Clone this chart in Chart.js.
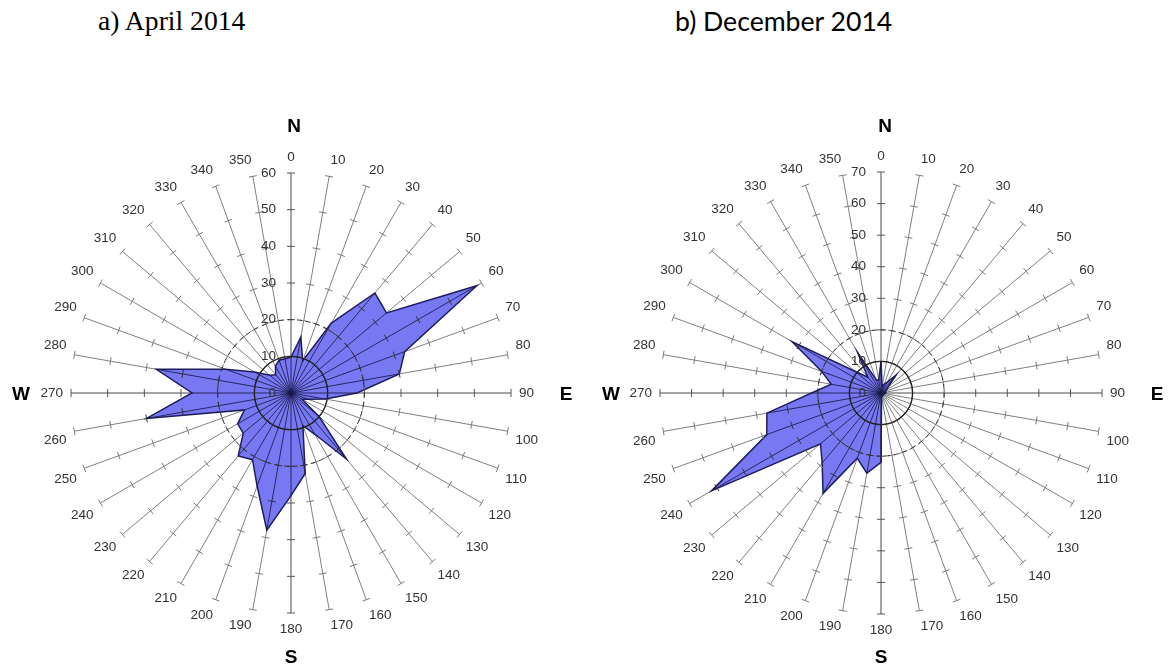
<!DOCTYPE html>
<html><head><meta charset="utf-8">
<script src="https://cdn.jsdelivr.net/npm/chart.js@4.4.1/dist/chart.umd.min.js"></script>
<style>
html,body{margin:0;padding:0;background:#fff;width:1168px;height:665px;overflow:hidden;position:relative;}
.wrap{position:absolute;top:0;width:584px;height:665px;}
#wa{left:0}
#wb{left:584px}
.title{position:absolute;white-space:nowrap;color:#000;}
.dir{position:absolute;font:bold 19px "Liberation Sans",Arial,sans-serif;color:#000;transform:translate(-50%,-50%);line-height:1;}
</style></head><body>
<div class="title" id="ta">a) April 2014</div>
<div class="title" id="tb">b) December 2014</div>
<div class="wrap" id="wa"><canvas id="ca" width="584" height="665"></canvas></div>
<div class="wrap" id="wb"><canvas id="cb" width="584" height="665"></canvas></div>
<div class="dir" style="left:294px;top:125px">N</div>
<div class="dir" style="left:21px;top:393px">W</div>
<div class="dir" style="left:566px;top:393px">E</div>
<div class="dir" style="left:291px;top:656px">S</div>
<div class="dir" style="left:885px;top:125px">N</div>
<div class="dir" style="left:611px;top:393px">W</div>
<div class="dir" style="left:1157px;top:393px">E</div>
<div class="dir" style="left:881px;top:656px">S</div>
<script>
// ---- data ----
const directions = ['0','10','20','30','40','50','60','70','80','90','100','110','120','130','140','150','160','170',
                    '180','190','200','210','220','230','240','250','260','270','280','290','300','310','320','330','340','350'];
const aprilValues = [9.8, 15.5, 9.3, 22, 35.6, 34, 58.5, 33, 30, 18, 9.5, 5, 3.5, 10, 23.5, 13, 9.5, 22.3,
                     28, 38, 27, 21, 22.4, 17, 16.8, 13.5, 40, 27, 37.3, 19, 11.5, 7.5, 6.5, 8.5, 9.5, 9.5];
const decemberValues = [10, 2, 3, 4, 7.5, 3, 2, 1.5, 1.5, 1.5, 1, 1, 1, 1, 1, 1, 1, 1,
                        22, 25.8, 22, 36.7, 29, 25, 62, 38.5, 36.7, 22, 16, 20, 32.5, 10.6, 6.5, 14.8, 4.5, 4];
const ticksApril = [0, 10, 20, 30, 40, 50, 60];
const ticksDecember = [0, 10, 20, 30, 40, 50, 60, 70];
const titleApril = 'a) April 2014';
const titleDecember = 'b) December 2014';

// ---- titles ----
function placeTitle(el, text, family, targetW, left, baseline){
  el.textContent = text;
  const c = document.createElement('canvas').getContext('2d');
  c.font = '100px ' + family;
  const w = c.measureText(text).width;
  const size = 100 * targetW / w;
  c.font = size + 'px ' + family;
  const m = c.measureText(text);
  const A = m.fontBoundingBoxAscent, D = m.fontBoundingBoxDescent;
  el.style.fontFamily = family;
  el.style.fontSize = size + 'px';
  el.style.lineHeight = (A + D) + 'px';
  el.style.left = left + 'px';
  el.style.top = (baseline - A) + 'px';
}
placeTitle(document.getElementById('ta'), titleApril, '"Liberation Serif"', 149, 98, 30);
placeTitle(document.getElementById('tb'), titleDecember, 'Lato', 218, 675, 31);

// ---- decorations drawn through the radial scale ----
const decor = {
  id: 'decor',
  afterDatasetsDraw(chart, args, opts) {
    const s = chart.scales.r, ctx = chart.ctx;
    const n = chart.data.labels.length;
    const data = chart.data.datasets[0].data;
    const cx = s.xCenter, cy = s.yCenter;
    ctx.save();
    // spokes inside the filled area
    ctx.strokeStyle = 'rgba(25,25,70,0.85)';
    ctx.lineWidth = 1;
    for (let i = 0; i < n; i++) {
      const p = s.getPointPositionForValue(i, data[i]);
      ctx.beginPath(); ctx.moveTo(cx, cy); ctx.lineTo(p.x, p.y); ctx.stroke();
    }
    // tick marks on each spoke
    for (let i = 0; i < n; i++) {
      const a = s.getIndexAngle(i) - Math.PI / 2;
      const nx = -Math.sin(a), ny = Math.cos(a);
      for (const v of opts.ticks) {
        if (v === 0) continue;
        const p = s.getPointPositionForValue(i, v);
        const inside = v <= data[i];
        const L = 4;
        ctx.strokeStyle = inside ? '#333' : (i % 9 === 0 ? '#555' : '#7a7a7a');
        ctx.beginPath(); ctx.moveTo(p.x - nx * L, p.y - ny * L); ctx.lineTo(p.x + nx * L, p.y + ny * L); ctx.stroke();
      }
    }
    // reference circles
    ctx.strokeStyle = '#222'; ctx.lineWidth = 1.3;
    ctx.beginPath(); ctx.arc(cx, cy, s.getDistanceFromCenterForValue(opts.solid), 0, 2 * Math.PI); ctx.stroke();
    ctx.setLineDash([5, 4]); ctx.lineWidth = 1; ctx.strokeStyle = '#333';
    ctx.beginPath(); ctx.arc(cx, cy, s.getDistanceFromCenterForValue(opts.dashed), 0, 2 * Math.PI); ctx.stroke();
    ctx.setLineDash([]);
    // value labels along the north axis
    ctx.fillStyle = '#333';
    ctx.font = '13.5px "Liberation Sans", Arial, sans-serif';
    ctx.textAlign = 'right'; ctx.textBaseline = 'middle';
    for (const v of opts.ticks) {
      const p = s.getPointPositionForValue(0, v);
      ctx.fillText(String(v), p.x - 15, p.y);
    }
    ctx.restore();
  }
};

function makeRose(id, values, ticks, cx, cy, radius) {
  const max = ticks[ticks.length - 1];
  return new Chart(document.getElementById(id), {
    type: 'radar',
    data: {
      labels: directions,
      datasets: [{
        data: values,
        backgroundColor: '#7878f3',
        borderColor: '#1e1e5e',
        borderWidth: 1.5,
        pointRadius: 0,
        pointHoverRadius: 0,
        fill: true,
        tension: 0
      }]
    },
    options: {
      responsive: false,
      animation: false,
      devicePixelRatio: 1,
      layout: { padding: 0 },
      plugins: { legend: { display: false }, tooltip: { enabled: false },
                 decor: { ticks: ticks, solid: 10, dashed: 20 } },
      scales: {
        r: {
          min: 0,
          max: max,
          startAngle: 0,
          ticks: { display: false, stepSize: 10 },
          grid: { display: false },
          angleLines: {
            display: true,
            lineWidth: 1,
            color: (c) => (c.index % 9 === 0 ? '#4a4a4a' : '#808080')
          },
          pointLabels: {
            display: true,
            padding: 8,
            color: '#333',
            font: { family: '"Liberation Sans", Arial, sans-serif', size: 13.5 }
          },
          afterSetDimensions: (scale) => {
            scale.xCenter = cx; scale.yCenter = cy; scale.drawingArea = radius;
          }
        }
      }
    },
    plugins: [decor]
  });
}

makeRose('ca', aprilValues, ticksApril, 291, 393, 220);
makeRose('cb', decemberValues, ticksDecember, 297, 393, 221);
</script>
</body></html>
